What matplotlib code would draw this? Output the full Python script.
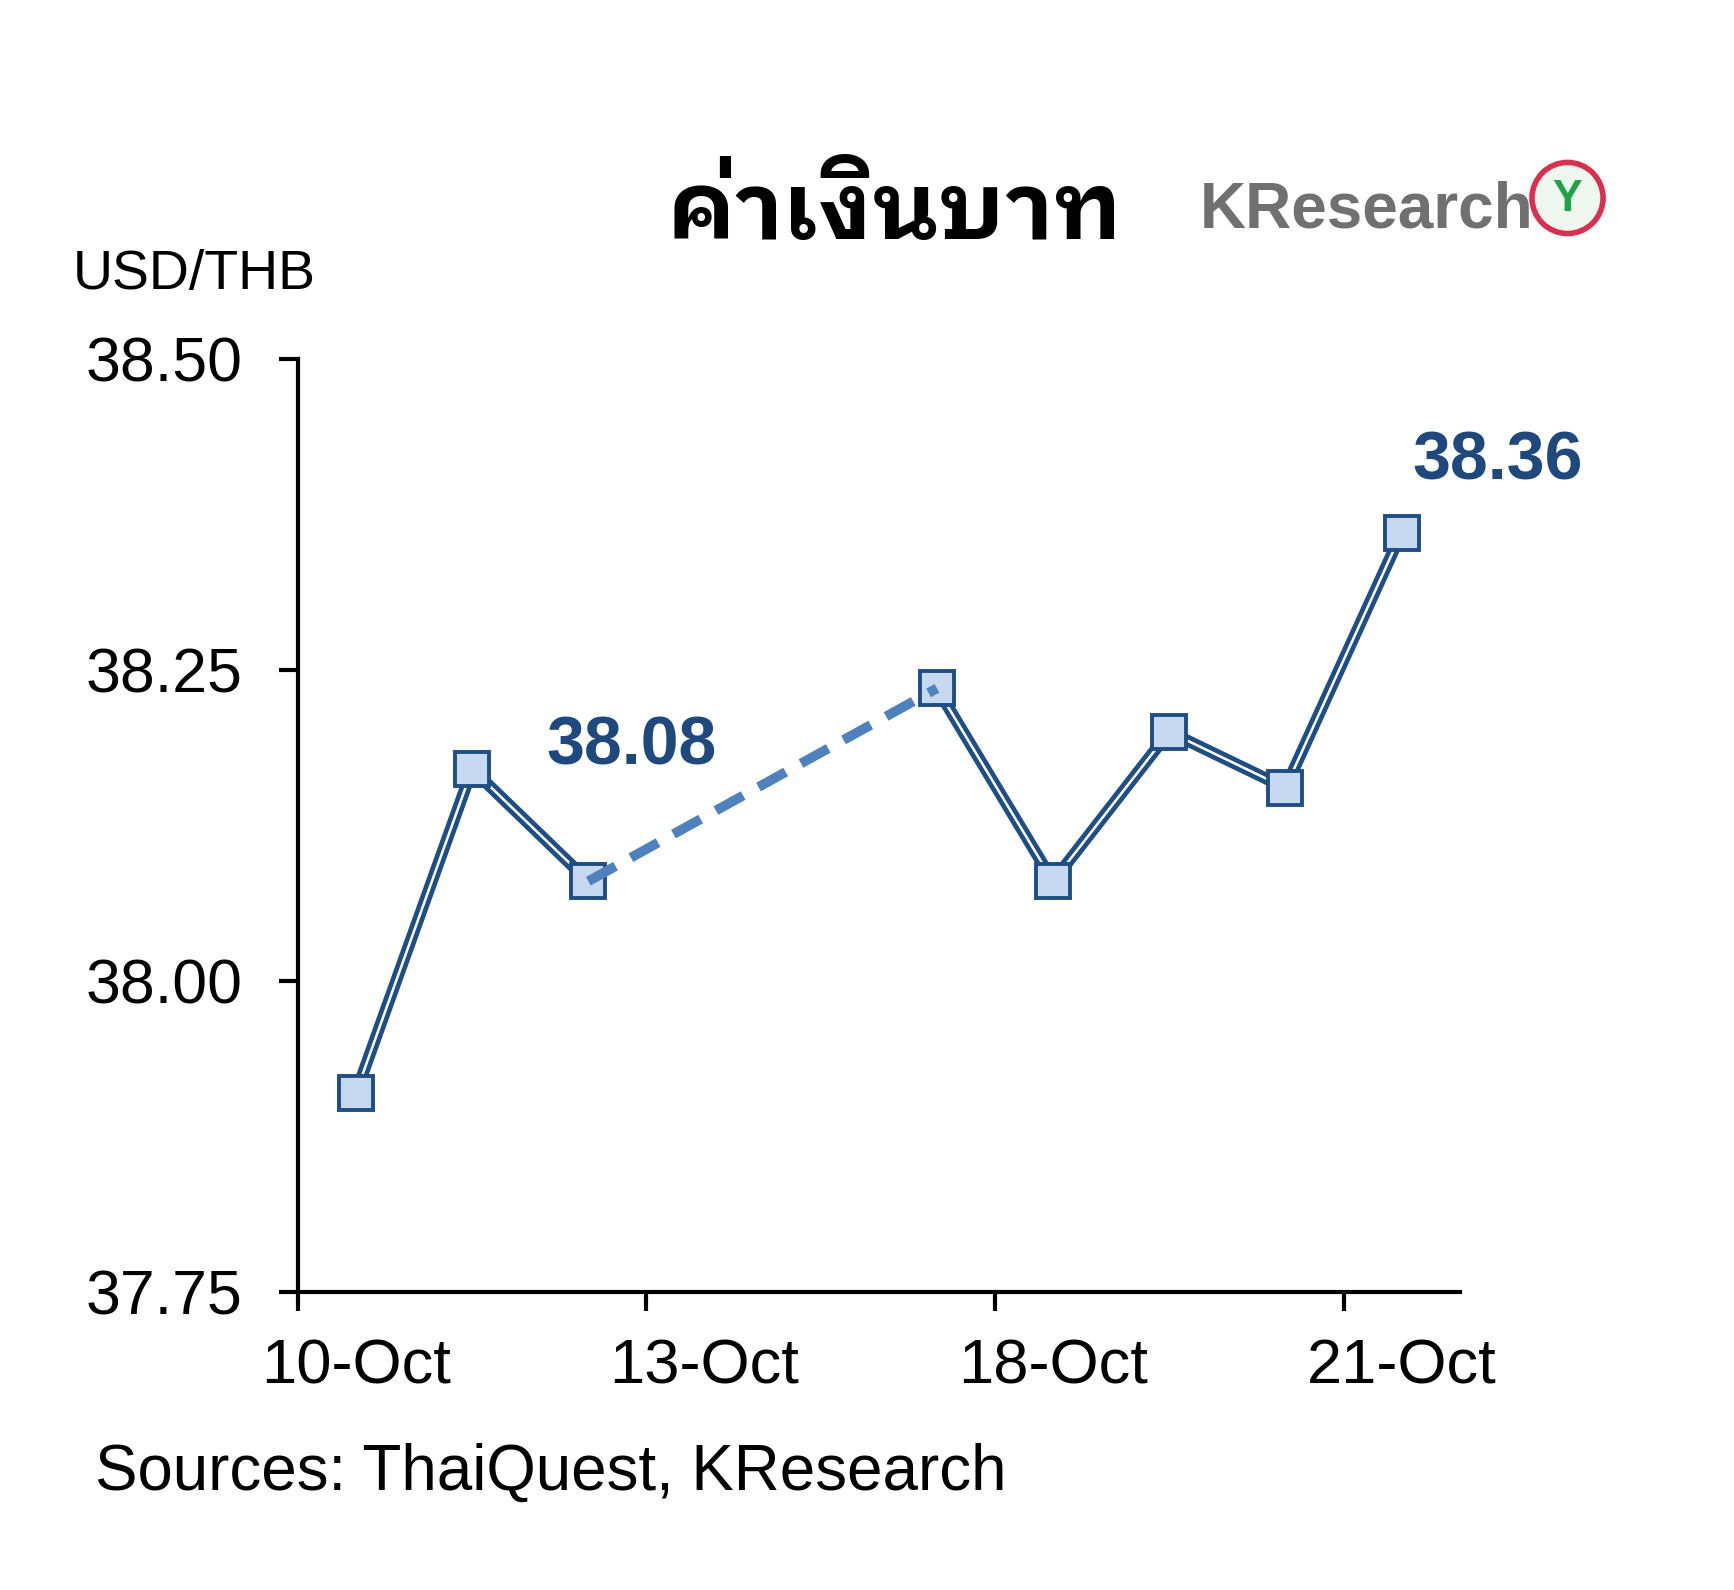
import numpy as np
import matplotlib
matplotlib.use("Agg")
import matplotlib.pyplot as plt
from matplotlib.patches import Ellipse

# USD/THB closing rates, 13-Oct and 14-Oct are market holidays
dates = ["10-Oct", "11-Oct", "12-Oct", "13-Oct", "14-Oct",
         "17-Oct", "18-Oct", "19-Oct", "20-Oct", "21-Oct"]
rates = [37.91, 38.17, 38.08, np.nan, np.nan,
         38.235, 38.08, 38.20, 38.155, 38.36]
shown_labels = ["10-Oct", "13-Oct", "18-Oct", "21-Oct"]
yticks = [37.75, 38.00, 38.25, 38.50]

navy = "#1F4E85"
light = "#C6D9F1"
dash_blue = "#4F81BD"

plt.rcParams["font.family"] = ["Liberation Sans", "DejaVu Sans"]

fig = plt.figure(figsize=(17.34, 15.9), dpi=100)
ax = fig.add_axes([0.1718, 0.1875, 0.670, 0.587])

x = np.arange(len(dates))
y = np.array(rates)

# double (compound) line: dark blue with a thin white core
ax.plot(x, y, color=navy, lw=8.5, solid_capstyle="butt", zorder=2)
ax.plot(x, y, color="white", lw=1.8, zorder=3)

# dashed bridge across the holiday gap
gap = np.where(np.isnan(y))[0]
i0, i1 = gap[0] - 1, gap[-1] + 1
ax.plot([x[i0], x[i1]], [y[i0], y[i1]], color=dash_blue, lw=7,
        dashes=(3.2, 1.8), zorder=5)

ax.plot(x, y, ls="none", marker="s", ms=25, mfc=light, mec=navy,
        mew=2.8, zorder=4)

# value labels
ax.annotate(f"{y[i0]:.2f}", (x[i0], y[i0]), xytext=(31, 84),
            textcoords="offset points", ha="center", va="baseline",
            fontsize=49, fontweight="bold", color="#1F497D", zorder=6)
ax.annotate(f"{y[-1]:.2f}", (x[-1], y[-1]), xytext=(69, 38),
            textcoords="offset points", ha="center", va="baseline",
            fontsize=49, fontweight="bold", color="#1F497D", zorder=6)

ax.set_xlim(-0.5, len(dates) - 0.5)
ax.set_ylim(yticks[0], yticks[-1])
ax.set_yticks(yticks)
ax.set_yticklabels([f"{v:.2f}" for v in yticks])

ax.set_xticks(np.arange(-0.5, len(dates) - 0.5, 3))
ax.set_xticklabels([])
ax.set_xticks([dates.index(d) for d in shown_labels], minor=True)
ax.set_xticklabels(shown_labels, minor=True)

ax.tick_params(axis="y", which="major", length=14, width=3,
               labelsize=45, pad=26, direction="out")
ax.tick_params(axis="x", which="major", length=14, width=3,
               direction="out")
ax.tick_params(axis="x", which="minor", length=0, labelsize=45.5, pad=33)

for s in ["top", "right"]:
    ax.spines[s].set_visible(False)
for s in ["left", "bottom"]:
    ax.spines[s].set_linewidth(3)

# texts around the plot
fig.text(0.516, 0.850, "ค่าเงินบาท", ha="center", va="baseline",
         fontsize=67, fontweight="bold",
         family=["IBM Plex Sans Thai Looped", "DejaVu Sans"])
fig.text(0.0417, 0.818, "USD/THB", ha="left", va="baseline", fontsize=40)
fig.text(0.0545, 0.063, "Sources: ThaiQuest, KResearch", ha="left",
         va="baseline", fontsize=45.8)

# KResearch logo stand-in
fig.text(0.692, 0.857, "KResearch", ha="left", va="baseline",
         fontsize=46, fontweight="bold", color="#707070")
fig.patches.append(Ellipse((0.904, 0.8755), 0.041, 0.041 * 1734 / 1590,
                           transform=fig.transFigure, facecolor="#eef8ee",
                           edgecolor="#d9304f", lw=4))
fig.text(0.904, 0.8745, "Y", ha="center", va="center", fontsize=32,
         fontweight="bold", color="#22a04b")

fig.savefig("out.png", dpi=100)
